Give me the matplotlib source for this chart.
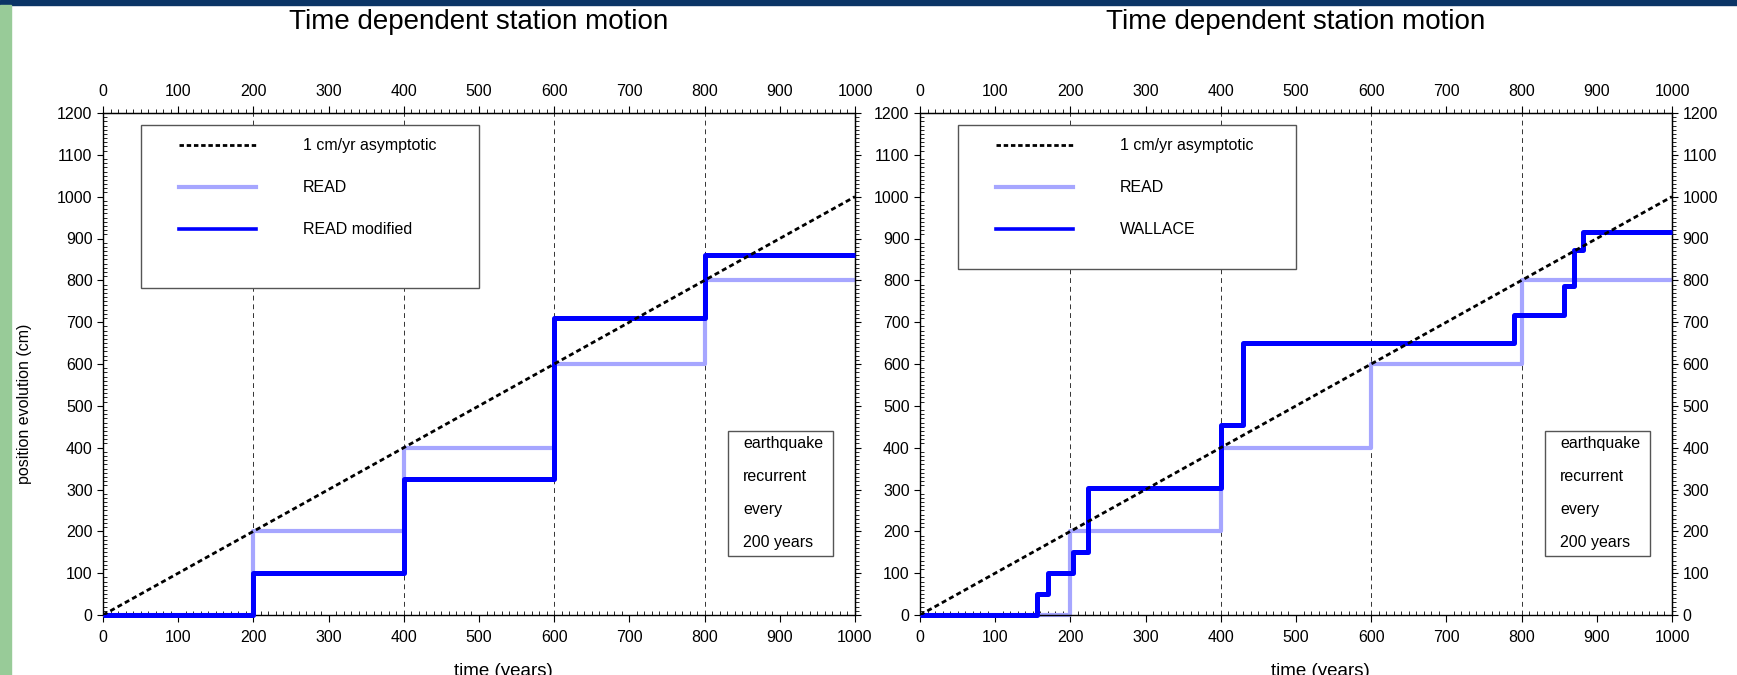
import matplotlib
matplotlib.use('Agg')
import matplotlib.pyplot as plt
from matplotlib.patches import Rectangle
from matplotlib.lines import Line2D
from matplotlib.ticker import FixedLocator, MultipleLocator

plt.rcParams['font.family'] = ['Liberation Sans', 'DejaVu Sans']

# ---------------- data ----------------
x_end = 1000
x_ticks = [0, 100, 200, 300, 400, 500, 600, 700, 800, 900, 1000]
y_ticks = [0, 100, 200, 300, 400, 500, 600, 700, 800, 900, 1000, 1100, 1200]
asym_years = [0, 1000]
asym_pos = [0, 1000]
quake_years = [200, 400, 600, 800]
read_years = [0, 200, 400, 600, 800]
read_pos = [0, 200, 400, 600, 800]
mod_years = [0, 200, 400, 600, 800]
mod_pos = [0, 100, 325, 710, 860]
wal_years = [0, 155, 170, 204, 223, 400, 430, 790, 856, 870, 881]
wal_pos = [0, 50, 100, 150, 303, 453, 650, 718, 787, 873, 915]

title_text = "Time dependent station motion"
xlabel_text = "time (years)"
ylabel_text = "position evolution (cm)"
asym_label = "1 cm/yr asymptotic"
read_label = "READ"
second_labels = ["READ modified", "WALLACE"]
note_lines = ["earthquake", "recurrent", "every", "200 years"]

# ---------------- style ----------------
READ_C = '#a6a6ff'
BLUE = '#0000ff'
TICK_FS = 11.5
TEXT_FS = 11.5
W, H = 1737, 675

fig = plt.figure(figsize=(W / 100, H / 100), dpi=100)
fig.patches.append(Rectangle((0, 1 - 5 / H), 1, 5 / H, transform=fig.transFigure,
                             color='#0b3566', zorder=0))
fig.patches.append(Rectangle((0, 0), 11 / W, 1 - 5 / H, transform=fig.transFigure,
                             color='#98cb98', zorder=0))

ax_bottom = 1 - 615 / H
ax_height = (615 - 113) / H
ax_width = 752 / W
axL = fig.add_axes([103 / W, ax_bottom, ax_width, ax_height])
axR = fig.add_axes([920 / W, ax_bottom, ax_width, ax_height])


def step_xy(years, pos):
    return list(years) + [x_end], list(pos) + [pos[-1]]


def draw_panel(ax, years2, pos2, label2, legend_bottom, right_labels, ylab):
    ax.set_xlim(0, 1000)
    ax.set_ylim(0, 1200)
    for q in quake_years:
        ax.axvline(q, color='#333333', lw=0.7, ls=(0, (5, 4)), zorder=1)
    rx, ry = step_xy(read_years, read_pos)
    ax.step(rx, ry, where='post', color=READ_C, lw=3.0, solid_capstyle='butt',
            clip_on=False, zorder=2)
    bx, by = step_xy(years2, pos2)
    ax.step(bx, by, where='post', color=BLUE, lw=3.6, solid_capstyle='butt',
            clip_on=False, zorder=3)
    ax.plot(asym_years, asym_pos, color='black', lw=2.0, ls=(0, (1.8, 1.2)),
            zorder=4)

    for s in ax.spines.values():
        s.set_linewidth(1.0)

    # bottom / left ticks
    ax.xaxis.set_major_locator(FixedLocator(x_ticks))
    ax.xaxis.set_minor_locator(MultipleLocator(10))
    ax.yaxis.set_major_locator(FixedLocator(y_ticks))
    ax.yaxis.set_minor_locator(MultipleLocator(10))
    ax.tick_params(axis='x', which='major', direction='out', length=5, width=0.8,
                   labelsize=TICK_FS, pad=6, top=False)
    ax.tick_params(axis='x', which='minor', direction='in', length=3, width=0.6,
                   top=False)
    ax.tick_params(axis='y', which='major', direction='out', length=4, width=0.8,
                   labelsize=TICK_FS, pad=3.5, right=False)
    ax.tick_params(axis='y', which='minor', direction='in', length=3, width=0.6,
                   right=False)

    sx = ax.secondary_xaxis('top')
    sx.xaxis.set_major_locator(FixedLocator(x_ticks))
    sx.xaxis.set_minor_locator(MultipleLocator(10))
    sx.tick_params(which='major', direction='out', length=5, width=0.8,
                   labelsize=TICK_FS, pad=5)
    sx.tick_params(which='minor', direction='out', length=3, width=0.6)

    sy = ax.secondary_yaxis('right')
    sy.yaxis.set_major_locator(FixedLocator(y_ticks))
    sy.yaxis.set_minor_locator(MultipleLocator(10))
    sy.tick_params(which='major', direction='out', length=4, width=0.8,
                   labelsize=TICK_FS, pad=3.5, labelright=right_labels)
    sy.tick_params(which='minor', direction='out', length=3, width=0.6)

    ax.set_title(title_text, fontsize=20, y=1.168, pad=0)
    ax.set_xlabel(xlabel_text, fontsize=13.5, labelpad=12)
    ax.xaxis.set_label_coords(0.532, -0.095)
    if ylab:
        ax.set_ylabel(ylabel_text, fontsize=TEXT_FS)
        ax.yaxis.set_label_coords(-0.094, 0.42)

    # legend box (opaque)
    ax.add_patch(Rectangle((50, legend_bottom), 450, 1172 - legend_bottom,
                           facecolor='white', edgecolor='#555555', lw=1.0,
                           zorder=4.5))
    handles = [Line2D([], [], color='black', lw=2.0, ls=(0, (1.6, 1.0))),
               Line2D([], [], color=READ_C, lw=3.0),
               Line2D([], [], color=BLUE, lw=2.6)]
    leg = ax.legend(handles, [asym_label, read_label, label2], loc='upper left',
                    bbox_to_anchor=(101, 1140), bbox_transform=ax.transData,
                    frameon=False, borderpad=0, borderaxespad=0, handlelength=4.85,
                    handletextpad=2.9, labelspacing=1.7, fontsize=TEXT_FS)
    leg.set_zorder(6)

    # note box
    ax.add_patch(Rectangle((831, 141), 140, 300, facecolor='white',
                           edgecolor='#555555', lw=1.0, zorder=5))
    ax.text(851, 291, "\n".join(note_lines), ha='left', va='center',
            fontsize=TEXT_FS, linespacing=2.5, zorder=6)


draw_panel(axL, mod_years, mod_pos, second_labels[0], 781, False, True)
draw_panel(axR, wal_years, wal_pos, second_labels[1], 827, True, False)

fig.savefig('out.png', dpi=100)
